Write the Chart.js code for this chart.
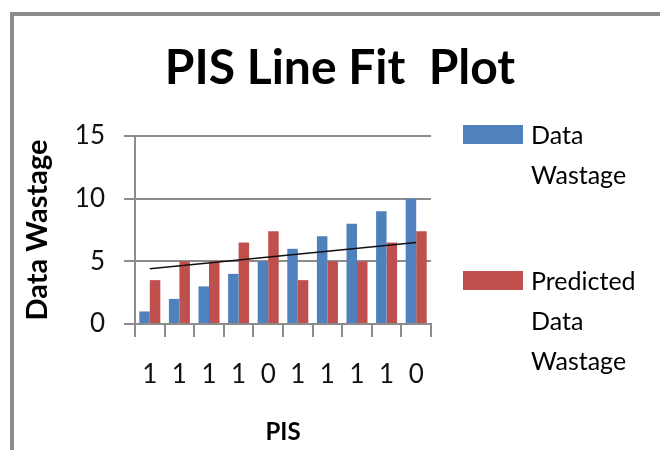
<!DOCTYPE html>
<html>
<head>
<meta charset="utf-8">
<script src="https://cdn.jsdelivr.net/npm/chart.js@4.4.1/dist/chart.umd.min.js"></script>
<style>
  body { margin: 0; background: #fff; }
  #wrap { position: relative; width: 660px; height: 450px; overflow: hidden; }
  #frame { position: absolute; left: 10px; top: 12px; width: 700px; height: 500px;
           border-left: 4px solid #8c8c8c; border-top: 4px solid #8c8c8c; }
  canvas { position: absolute; left: 0; top: 0; }
  .swatch { position: absolute; left: 463px; width: 60px; height: 19px; }
  .ltext { position: absolute; left: 531px; width: 125px; line-height: 40px;
           font-family: Lato, sans-serif; font-size: 25px; color: #000; }
</style>
</head>
<body>
<div id="wrap">
  <div id="frame"></div>
  <canvas id="chart" width="660" height="450"></canvas>
</div>
<script>
// valores
const categories = ['1', '1', '1', '1', '0', '1', '1', '1', '1', '0'];
const dataWastage = [1, 2, 3, 4, 5, 6, 7, 8, 9, 10];
const predictedWastage = [3.5, 5, 5, 6.5, 7.4, 3.5, 5, 5, 6.5, 7.4];
// linea de tendencia: solo los extremos, el resto se une con spanGaps
const trendline = [4.4, null, null, null, null, null, null, null, null, 6.5];
const seriesNames = ['Data Wastage', 'Predicted Data Wastage'];
const seriesColors = ['#4F81BD', '#C0504D'];

const gridGray = '#8c8c8c';

// leyenda en HTML (Chart.js no parte las etiquetas en varias lineas)
const legendTops = [114, 260];
const wrap = document.getElementById('wrap');
seriesNames.forEach((name, i) => {
  const sw = document.createElement('div');
  sw.className = 'swatch';
  sw.style.top = (legendTops[i] + 11) + 'px';
  sw.style.background = seriesColors[i];
  wrap.appendChild(sw);
  const tx = document.createElement('div');
  tx.className = 'ltext';
  tx.style.top = legendTops[i] + 'px';
  tx.textContent = name;
  wrap.appendChild(tx);
});

const ctx = document.getElementById('chart').getContext('2d');
new Chart(ctx, {
  type: 'bar',
  data: {
    labels: categories,
    datasets: [
      {
        type: 'line',
        label: 'Linear trend',
        data: trendline,
        borderColor: '#111',
        borderWidth: 1.5,
        pointRadius: 0,
        spanGaps: true,
        yAxisID: 'y',
        order: 0
      },
      {
        label: seriesNames[0],
        data: dataWastage,
        backgroundColor: seriesColors[0],
        categoryPercentage: 0.71,
        barPercentage: 1,
        yAxisID: 'y',
        order: 1
      },
      {
        label: seriesNames[1],
        data: predictedWastage,
        backgroundColor: seriesColors[1],
        categoryPercentage: 0.71,
        barPercentage: 1,
        yAxisID: 'y',
        order: 1
      }
    ]
  },
  options: {
    responsive: false,
    animation: false,
    layout: { padding: { left: 20, right: 0, top: 0, bottom: 0 } },
    plugins: {
      legend: { display: false },
      tooltip: { enabled: false },
      title: {
        display: true,
        text: 'PIS Line Fit  Plot',
        color: '#000',
        font: { family: 'Lato', size: 48, weight: 'bold', lineHeight: 1 },
        padding: { top: 45, bottom: 43 }
      }
    },
    scales: {
      x: {
        grid: { drawOnChartArea: false, color: gridGray, lineWidth: 2, tickLength: 13 },
        border: { display: true, color: gridGray, width: 2 },
        ticks: {
          color: '#111',
          font: { family: 'Lato', size: 26 },
          padding: 22,
          maxRotation: 0,
          autoSkip: false
        },
        title: {
          display: true,
          text: 'PIS',
          color: '#000',
          font: { family: 'Lato', size: 24, weight: 'bold', lineHeight: 1 },
          padding: { top: 0, bottom: 6 }
        },
        afterFit: s => { s.height = 126; }
      },
      y: {
        min: 0,
        max: 15,
        ticks: {
          stepSize: 5,
          color: '#111',
          font: { family: 'Lato', size: 26 },
          padding: 19
        },
        grid: { color: gridGray, lineWidth: 2, tickLength: 11 },
        border: { display: true, color: gridGray, width: 2 },
        title: {
          display: true,
          text: 'Data Wastage',
          color: '#000',
          font: { family: 'Lato', size: 29, weight: 'bold', lineHeight: 1 },
          padding: { top: 3, bottom: 0 }
        },
        afterFit: s => { s.width = 115; }
      },
      // eje vacio a la derecha para dejar sitio a la leyenda
      y2: {
        type: 'linear',
        position: 'right',
        ticks: { display: false },
        grid: { display: false },
        border: { display: false },
        afterFit: s => { s.width = 229; }
      }
    }
  }
});
</script>
</body>
</html>
